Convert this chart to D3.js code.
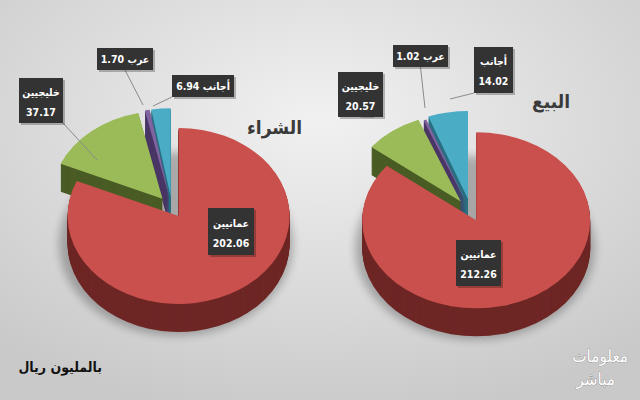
<!DOCTYPE html>
<html><head><meta charset="utf-8">
<script src="https://cdn.jsdelivr.net/npm/d3@7"></script>
<style>body{margin:0}svg{display:block}</style>
</head><body>
<div id="chart"></div>
<script>
var svgWidth = 640, svgHeight = 400;

// data
var categories = ["عمانيين", "خليجيين", "عرب", "أجانب"];
var buyValues = [202.06, 37.17, 1.70, 6.94];
var sellValues = [212.26, 20.57, 1.02, 14.02];
var panelTitles = ["الشراء", "البيع"];

var topColors = ["#c9504d", "#9bbb59", "#8064a2", "#4bacc6"];
var sideColors = ["#6e2725", "#4a5c25", "#4a3766", "#2a6f80"];

var svg = d3.select("#chart").append("svg")
  .attr("width", svgWidth).attr("height", svgHeight)
  .attr("font-family", "DejaVu Sans Condensed, DejaVu Sans, sans-serif");

var defs = svg.append("defs");
var bg = defs.append("radialGradient").attr("id", "bg").attr("cx", "50%").attr("cy", "30%").attr("r", "75%");
bg.append("stop").attr("offset", "0%").attr("stop-color", "#f1f1f1");
bg.append("stop").attr("offset", "100%").attr("stop-color", "#c9c9c9");
svg.append("rect").attr("width", svgWidth).attr("height", svgHeight).attr("fill", "url(#bg)");

var shadow = defs.append("filter").attr("id", "sh").attr("x", "-20%").attr("y", "-20%").attr("width", "140%").attr("height", "140%");
shadow.append("feGaussianBlur").attr("stdDeviation", 4);

// pie panels
var panels = [
  {values: buyValues, cx: 172, cy: 208, rx: 111, ry: 88, explode: [12, 15, 15, 15], title: panelTitles[0], tx: 302, ty: 134},
  {values: sellValues, cx: 471, cy: 212, rx: 114, ry: 88, explode: [12, 17, 14, 17], title: panelTitles[1], tx: 570, ty: 108}
];
var depth = 28;

var pie = d3.pie().sort(null).value(d => d);
var arc = d3.arc().innerRadius(0);

panels.forEach(function(p) {
  var k = p.ry / p.rx;
  var slices = pie(p.values);
  var g = svg.append("g");

  g.append("ellipse").attr("cx", p.cx + 4).attr("cy", p.cy + depth + 8)
    .attr("rx", p.rx + 6).attr("ry", p.ry + 4).attr("fill", "#000").attr("opacity", 0.25)
    .attr("filter", "url(#sh)");

  function offset(s, i) {
    var mid = (s.startAngle + s.endAngle) / 2;
    return [Math.sin(mid) * p.explode[i], -Math.cos(mid) * p.explode[i] * k];
  }

  // side walls
  for (var z = depth; z > 0; z--) {
    slices.forEach(function(s, i) {
      var o = offset(s, i);
      g.append("path")
        .attr("d", arc.outerRadius(p.rx)(s))
        .attr("transform", `translate(${p.cx + o[0]},${p.cy + o[1] + z}) scale(1,${k})`)
        .attr("fill", sideColors[i]);
    });
  }
  // tops
  slices.forEach(function(s, i) {
    var o = offset(s, i);
    g.append("path")
      .attr("d", arc.outerRadius(p.rx)(s))
      .attr("transform", `translate(${p.cx + o[0]},${p.cy + o[1]}) scale(1,${k})`)
      .attr("fill", topColors[i]);
  });

  svg.append("text").attr("x", p.tx).attr("y", p.ty).attr("text-anchor", "end")
    .attr("font-size", 19).attr("font-weight", "bold").attr("fill", "#3a3a3a").text(p.title);
});

// labels: [panel, slice, box x, y, w, h, twoLines, leader start]
var labelLayout = [
  [0, 0, 208, 208, 46, 47, true, null],
  [0, 1, 19, 78, 44, 45, true, [97, 160]],
  [0, 2, 97, 48, 56, 22, false, [143, 105]],
  [0, 3, 172, 75, 62, 22, false, [153, 106]],
  [1, 0, 456, 240, 45, 46, true, null],
  [1, 1, 338, 72, 45, 45, true, [374, 117]],
  [1, 2, 393, 45, 55, 22, false, [425, 108]],
  [1, 3, 474, 47, 39, 46, true, [450, 99]]
];

labelLayout.forEach(function(l) {
  var p = panels[l[0]];
  var name = categories[l[1]], val = p.values[l[1]].toFixed(2);
  var x = l[2], y = l[3], w = l[4], h = l[5];
  if (l[7]) {
    svg.append("line").attr("x1", l[7][0]).attr("y1", l[7][1])
      .attr("x2", x + (l[7][0] < x ? 0 : (l[7][0] > x + w ? w : w / 2)))
      .attr("y2", l[7][1] < y ? y : y + h)
      .attr("stroke", "#8a8a8a").attr("stroke-width", 1);
  }
  svg.append("rect").attr("x", x + 2).attr("y", y + 2).attr("width", w).attr("height", h)
    .attr("fill", "#000").attr("opacity", 0.25);
  svg.append("rect").attr("x", x).attr("y", y).attr("width", w).attr("height", h).attr("fill", "#333333");
  var t = svg.append("text").attr("fill", "#fff").attr("font-weight", "bold").attr("font-size", 10.5)
    .attr("text-anchor", "middle");
  if (l[6]) {
    t.append("tspan").attr("x", x + w / 2).attr("y", y + h / 2 - 5).attr("direction", "rtl").text(name);
    t.append("tspan").attr("x", x + w / 2).attr("y", y + h / 2 + 15).text(val);
  } else {
    t.attr("x", x + w / 2).attr("y", y + h / 2 + 4).attr("direction", "rtl").attr("unicode-bidi", "embed")
      .text(name + " " + val);
  }
});

svg.append("text").attr("x", 102).attr("y", 372).attr("text-anchor", "end")
  .attr("font-size", 14).attr("font-weight", "bold").attr("fill", "#111").text("بالمليون ريال");

var logo = svg.append("g").attr("fill", "#ffffff").attr("stroke", "#6a6a6a").attr("stroke-width", 0.5)
  .attr("font-size", 17).attr("text-anchor", "end").attr("paint-order", "stroke");
logo.append("text").attr("x", 628).attr("y", 362).text("معلومات");
logo.append("text").attr("x", 615).attr("y", 385).text("مباشر");
</script>
</body></html>
